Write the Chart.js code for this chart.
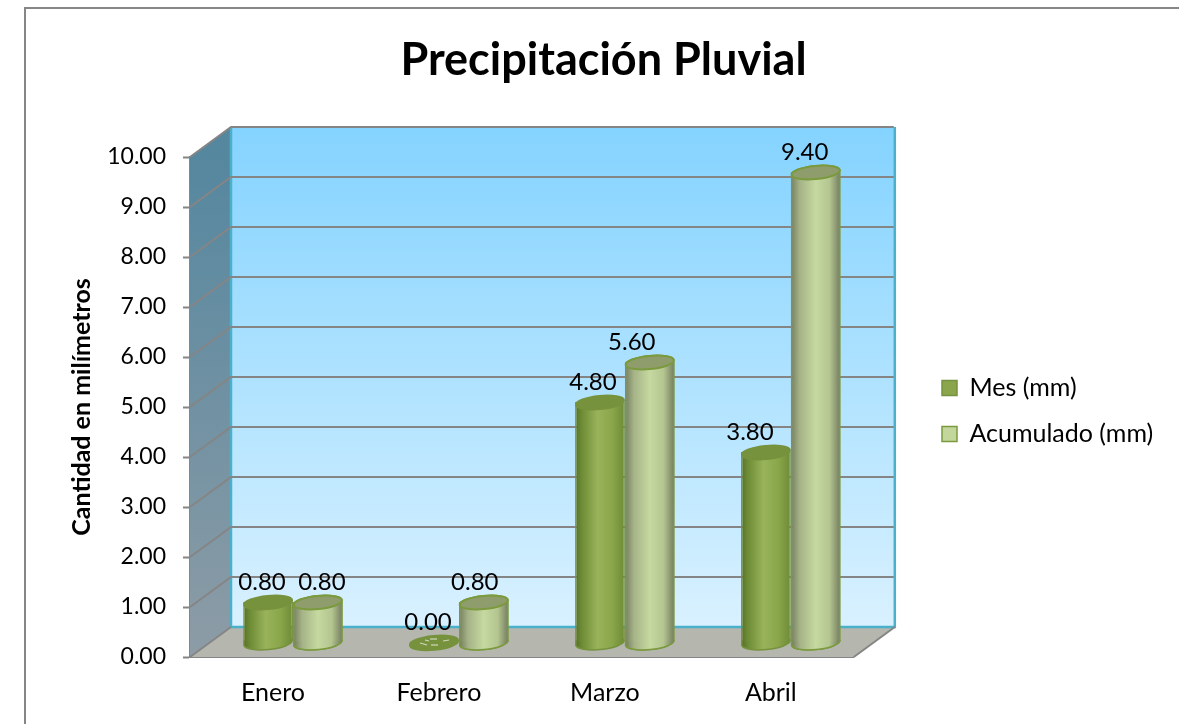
<!DOCTYPE html>
<html><head><meta charset="utf-8">
<style>html,body{margin:0;padding:0;background:#fff}#w{position:relative;width:1179px;height:724px}canvas{display:block}</style>
<script src="https://cdn.jsdelivr.net/npm/chart.js@4"></script></head>
<body><div id="w"><canvas id="c" width="1179" height="724"></canvas></div>
<script>
const categories = ['Enero','Febrero','Marzo','Abril'];
const mesValues = [0.80,0.00,4.80,3.80];
const acumuladoValues = [0.80,0.80,5.60,9.40];
const seriesNames = ['Mes (mm)','Acumulado (mm)'];
const yTicks = [0,1,2,3,4,5,6,7,8,9,10];
const chartTitle = 'Precipitación Pluvial';
const yTitle = 'Cantidad en milímetros';

const FONT='Lato';
const DX=41, DY=-30, BDX=20, BDY=-15, CAT_PCT=.6;
const labelNudge=[[-6,-6,-7,-16],[4,-9,-18,-11]];
const looks=[
 {stops:[[0,'#566f28'],[.12,'#6c8a34'],[.45,'#98b35a'],[.75,'#8aa64a'],[1,'#6d8a37']],top:'#76923c',edge:'#76923c',box:'#8aa54c'},
 {stops:[[0,'#757d5f'],[.18,'#a5b387'],[.5,'#c6d9a0'],[.78,'#b4c590'],[1,'#727a5e']],top:'#8f9d6d',edge:'#7b9a3e',box:'#c3d69b'}
];
const TILT=5.5*Math.PI/180;
function grad(ctx,x0,x1,stops){const g=ctx.createLinearGradient(x0,0,x1,0);stops.forEach(s=>g.addColorStop(s[0],s[1]));return g;}
function ell(ctx,x,y,rx,ry){ctx.beginPath();ctx.ellipse(x,y,rx,ry,-TILT,0,Math.PI*2);}

function paintBases(chart,i){
  const ctx=chart.ctx,look=looks[i];
  chart.getDatasetMeta(i).data.forEach((el,j)=>{
    const w=el.width/2-.75,cy=el.base+1.5,s=w*Math.sin(TILT);
    ell(ctx,el.x,cy,w,6.5);
    ctx.fillStyle=grad(ctx,el.x-w,el.x+w,look.stops);ctx.fill();
    ctx.strokeStyle=look.edge;ctx.lineWidth=1.5;ctx.stroke();
    if(chart.data.datasets[i].data[j]>0){
      ctx.beginPath();ctx.moveTo(el.x-w,el.base-1);ctx.lineTo(el.x-w,cy+s);ctx.lineTo(el.x+w,cy-s);ctx.lineTo(el.x+w,el.base-1);ctx.closePath();ctx.fill();
      ctx.beginPath();ctx.moveTo(el.x-w,el.base-1);ctx.lineTo(el.x-w,cy+s);ctx.stroke();
    }
  });
}
function paintTops(chart,i){
  const ctx=chart.ctx,look=looks[i];
  chart.getDatasetMeta(i).data.forEach((el,j)=>{
    const w=el.width/2-.75,v=chart.data.datasets[i].data[j];
    ell(ctx,el.x,el.y+.5,w,6.5);
    ctx.fillStyle=look.top;ctx.fill();
    ctx.strokeStyle=look.edge;ctx.lineWidth=2;ctx.stroke();
    if(v===0){
      ctx.strokeStyle='#cfd8bc';ctx.lineWidth=1.2;
      [[-14,1,-7,3],[-4,-3,3,-3],[-3,3,4,3],[9,-1,15,-2],[-9,-2,-5,-1]].forEach(s=>{
        ctx.beginPath();ctx.moveTo(el.x+s[0],el.y+s[1]);ctx.lineTo(el.x+s[2],el.y+s[3]);ctx.stroke();});
    }
  });
}
const walls={id:'walls',beforeDatasetsDraw(chart){
  const {ctx,chartArea:a,scales:{y}}=chart;
  const L=a.left,R=a.right,T=a.top,B=a.bottom;
  ctx.save();
  let g=ctx.createLinearGradient(0,T+DY,0,B+DY);g.addColorStop(0,'#84d3ff');g.addColorStop(1,'#d9f1ff');
  ctx.fillStyle=g;ctx.fillRect(L+DX,T+DY,R-L,B-T);
  g=ctx.createLinearGradient(0,T,0,B);g.addColorStop(0,'#55879f');g.addColorStop(1,'#8d9ca6');
  ctx.fillStyle=g;ctx.beginPath();ctx.moveTo(L,T);ctx.lineTo(L+DX,T+DY);ctx.lineTo(L+DX,B+DY);ctx.lineTo(L,B);ctx.closePath();ctx.fill();
  ctx.fillStyle='#b5b7af';ctx.beginPath();ctx.moveTo(L,B);ctx.lineTo(L+DX,B+DY);ctx.lineTo(R+DX,B+DY);ctx.lineTo(R,B);ctx.closePath();ctx.fill();
  ctx.strokeStyle='#4bb0ca';ctx.lineWidth=2.5;
  ctx.beginPath();ctx.moveTo(L+DX,T+DY);ctx.lineTo(L+DX,B+DY);ctx.lineTo(R+DX,B+DY);ctx.lineTo(R+DX,T+DY);ctx.stroke();
  ctx.strokeStyle='#858585';ctx.lineWidth=2;
  yTicks.forEach(v=>{const p=y.getPixelForValue(v);if(v===0)return;
    ctx.beginPath();ctx.moveTo(L,p);ctx.lineTo(L+DX,p+DY);ctx.lineTo(R+DX-1,p+DY);ctx.stroke();});
  ctx.beginPath();ctx.moveTo(L,B);ctx.lineTo(L+DX,B+DY);ctx.stroke();
  ctx.beginPath();ctx.moveTo(R,B);ctx.lineTo(R+DX,B+DY);ctx.stroke();
  ctx.restore();
  ctx.save();ctx.translate(BDX,BDY);
},afterDatasetsDraw(chart){
  const ctx=chart.ctx;
  ctx.restore();
  ctx.save();
  ctx.fillStyle='#000';ctx.font='24px '+FONT;ctx.textAlign='center';ctx.textBaseline='middle';
  chart.data.datasets.forEach((d,i)=>{const m=chart.getDatasetMeta(i);
    m.data.forEach((el,j)=>{ctx.fillText(d.data[j].toFixed(2),el.x+BDX+labelNudge[i][j],el.y+BDY-20);});});
  ctx.restore();
},
beforeDatasetDraw(chart,args){paintBases(chart,args.index);},
afterDatasetDraw(chart,args){
  paintTops(chart,args.index);
  if(args.index===0){ // second series sits in front where the cylinders touch
    paintBases(chart,1);
    chart.getDatasetMeta(1).controller.draw();
    paintTops(chart,1);
  }
}};
const placeBoxes={id:'placeBoxes',afterLayout(chart){
  const lg=chart.legend;
  lg.left=921;lg.right=1179;lg.width=258;lg.top+=49;lg.bottom+=49;
  chart.titleBlock.left+=24;chart.titleBlock.right+=24;
}};
const frame={id:'frame',beforeDraw(chart){const c=chart.ctx;c.save();c.strokeStyle='#868686';c.lineWidth=2;
  c.beginPath();c.moveTo(25,724);c.lineTo(25,8);c.lineTo(1179,8);c.stroke();c.restore();}};

function barFill(i){return c=>{
  const x=c.chart.scales.x,a=c.chart.chartArea;
  if(!x||!a||c.dataIndex===undefined)return looks[i].box;
  const w=(a.right-a.left)/categories.length*CAT_PCT/2,mid=x.getPixelForTick(c.dataIndex),x0=mid+(i-1)*w;
  return grad(c.chart.ctx,x0,x0+w,looks[i].stops);
};}
const edge={left:1.5,right:1.5,top:0,bottom:0};
new Chart(document.getElementById('c'),{
 type:'bar',
 plugins:[frame,walls,placeBoxes],
 data:{labels:categories,datasets:[
  {label:seriesNames[0],data:mesValues,clip:false,backgroundColor:barFill(0),borderColor:looks[0].edge,borderWidth:edge,borderSkipped:false,categoryPercentage:CAT_PCT,barPercentage:1},
  {label:seriesNames[1],data:acumuladoValues,clip:false,backgroundColor:barFill(1),borderColor:looks[1].edge,borderWidth:edge,borderSkipped:false,categoryPercentage:CAT_PCT,barPercentage:1}
 ]},
 options:{
  responsive:false,animation:false,
  layout:{padding:{left:63,right:83,top:0,bottom:0}},
  plugins:{
   tooltip:{enabled:false},
   title:{display:true,text:chartTitle,color:'#000',font:{family:FONT,size:45,weight:'bold'},padding:{top:33,bottom:70},align:'center',position:'top',fullSize:true},
   legend:{position:'right',align:'center',labels:{
     font:{family:FONT,size:25},color:'#000',boxWidth:15,boxHeight:15,padding:21,
     generateLabels:()=>seriesNames.map((n,i)=>({text:n,fillStyle:looks[i].box,strokeStyle:looks[i].edge,lineWidth:1.5,datasetIndex:i,fontColor:'#000'}))
   }}
  },
  scales:{
   x:{grid:{display:false,drawTicks:false},border:{color:'#858585',width:2},
      ticks:{color:'#000',font:{family:FONT,size:25},padding:21,maxRotation:0},
      afterFit:s=>{s.height=67;}},
   y:{min:0,max:10,afterBuildTicks:s=>{s.ticks=yTicks.map(v=>({value:v}));},
      grid:{drawOnChartArea:false,tickLength:7,tickColor:'#858585',tickWidth:2},border:{color:'#858585',width:2},
      ticks:{color:'#000',font:{family:FONT,size:23},padding:17,callback:v=>v.toFixed(2)},
      title:{display:true,text:yTitle,color:'#000',font:{family:FONT,size:25,weight:'bold'}},
      afterFit:s=>{s.width=127;}}
  }
 }
});
</script></body></html>
